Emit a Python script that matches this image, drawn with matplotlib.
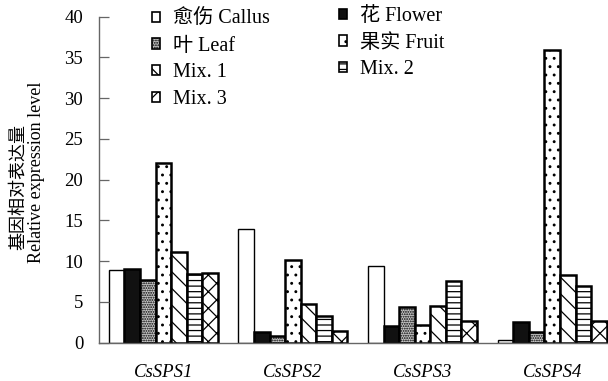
import numpy as np
import matplotlib
matplotlib.use('Agg')
import matplotlib.pyplot as plt
from matplotlib.patches import Patch

FONTS = ['Liberation Serif', 'Noto Sans CJK SC', 'DejaVu Sans']
plt.rcParams.update({
    'font.family': FONTS,
    'hatch.linewidth': 0.9,
})

genes = ['CsSPS1', 'CsSPS2', 'CsSPS3', 'CsSPS4']
series = ['愈伤 Callus', '花 Flower', '叶 Leaf', '果实 Fruit', 'Mix. 1', 'Mix. 2', 'Mix. 3']
callus = [8.9, 14.0, 9.4, 0.3]
flower = [9.1, 1.3, 2.0, 2.5]
leaf = [7.7, 0.8, 4.4, 1.3]
fruit = [22.1, 10.1, 2.2, 35.9]
mix1 = [11.1, 4.8, 4.5, 8.3]
mix2 = [8.4, 3.3, 7.6, 6.9]
mix3 = [8.6, 1.4, 2.7, 2.7]
values = [callus, flower, leaf, fruit, mix1, mix2, mix3]

# face, hatch, edge linewidth
styles = [
    ('white', None, 1.0),
    ('#111111', None, 1.8),
    ('#c8c8c8', '.......', 1.8),
    ('white', '..', 1.8),
    ('white', '\\\\', 1.8),
    ('white', '---', 1.8),
    ('white', 'xx', 1.8),
]

fig = plt.figure(figsize=(6.08, 3.81), dpi=100)
ax = fig.add_axes([98.5 / 608, 38.3 / 381, (617 - 98.5) / 608, (342.7 - 16.7) / 381])

x = np.arange(len(genes))
w = 0.12
handles = []
for i, (vals, (fc, hatch, lw)) in enumerate(zip(values, styles)):
    ax.bar(x + (i - 3) * w, vals, width=w, facecolor=fc, edgecolor='black',
           hatch=hatch, linewidth=lw)
    handles.append(Patch(facecolor=fc, edgecolor='black', hatch=hatch, linewidth=1.2,
                         label=series[i]))

ax.set_xlim(-0.5, 3.5)
ax.set_ylim(0, 40)
ax.set_yticks(np.arange(0, 41, 5))
ax.tick_params(axis='y', direction='in', length=7, width=0.9, color='#666666',
               pad=11, labelsize=13.5)
ax.set_xticks(x)
ax.set_xticklabels(genes, fontsize=13.5, style='italic')
ax.tick_params(axis='x', length=0, pad=15)
for s in ('top', 'right'):
    ax.spines[s].set_visible(False)
for s in ('left', 'bottom'):
    ax.spines[s].set_color('#666666')
    ax.spines[s].set_linewidth(1.0)

fig.text(18 / 608, 1 - 187 / 381, '基因相对表达量', rotation=90, ha='center', va='center',
         fontsize=13)
fig.text(37 / 608, 1 - 172 / 381, 'Relative expression level', rotation=90,
         ha='center', va='center', fontsize=13)

legkw = dict(frameon=False, fontsize=14.5, handlelength=0.42, handleheight=0.42,
             handletextpad=0.6, labelspacing=0.38, borderpad=0, borderaxespad=0,
             loc='upper left')
left_h = [handles[0], handles[2], handles[4], handles[6]]
right_h = [handles[1], handles[3], handles[5]]
leg1 = ax.legend(handles=left_h, bbox_to_anchor=(152 / 608, 1 - 10 / 381),
                 bbox_transform=fig.transFigure, **legkw)
ax.add_artist(leg1)
ax.legend(handles=right_h, bbox_to_anchor=(339 / 608, 1 - 7 / 381),
          bbox_transform=fig.transFigure, **legkw)

fig.savefig('out.png', dpi=100)
